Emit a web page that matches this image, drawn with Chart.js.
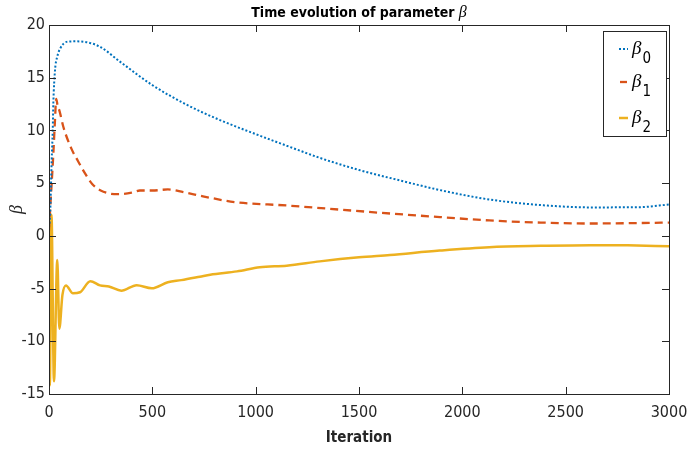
<!DOCTYPE html>
<html>
<head>
<meta charset="utf-8">
<script src="https://cdn.jsdelivr.net/npm/chart.js@4.4.0/dist/chart.umd.min.js"></script>
<style>
html,body{margin:0;padding:0;background:#fff;}
#wrap{width:689px;height:451px;position:relative;}
</style>
</head>
<body>
<div id="wrap"><canvas id="c"></canvas></div>
<script>
// ---- data ----
const chartTitle = 'Time evolution of parameter ';
const titleSymbol = 'β';
const xAxisTitle = 'Iteration';
const yAxisTitle = 'β';
const seriesLabels = ['β0', 'β1', 'β2'];
const xTicks = [0, 500, 1000, 1500, 2000, 2500, 3000];
const yTicks = [-15, -10, -5, 0, 5, 10, 15, 20];

const iterB0 = [0, 5, 13, 18, 21, 29, 40, 55, 85, 130, 198, 250, 345, 500, 670, 830, 1000, 1150, 1310, 1500, 1700, 1890, 2130, 2380, 2620, 2860, 3000];
const beta0  = [0.8, 1.8, 7.2, 10, 12.6, 15.7, 17.0, 17.8, 18.4, 18.45, 18.3, 17.9, 16.5, 14.3, 12.4, 10.96, 9.65, 8.55, 7.4, 6.25, 5.25, 4.35, 3.45, 2.92, 2.7, 2.72, 2.98];

const iterB1 = [0, 5, 21, 29, 35, 42, 50, 70, 110, 140, 175, 210, 250, 330, 400, 440, 500, 575, 650, 745, 900, 1150, 1400, 1650, 1900, 2130, 2380, 2620, 2800, 3000];
const beta1  = [0.5, 2.3, 7.8, 11.0, 13.0, 12.3, 11.9, 10.3, 8.2, 7.1, 5.9, 4.9, 4.3, 3.95, 4.1, 4.3, 4.3, 4.4, 4.15, 3.75, 3.2, 2.88, 2.5, 2.12, 1.77, 1.46, 1.26, 1.17, 1.2, 1.26];

const iterB2 = [0, 4, 12, 24, 40, 50, 65, 82, 116, 150, 200, 247, 290, 350, 424, 497, 575, 640, 730, 780, 910, 1020, 1150, 1310, 1500, 1650, 1890, 2130, 2380, 2620, 2800, 3000];
const beta2  = [0, -14.2, 2.0, -13.8, -2.3, -8.8, -5.6, -4.7, -5.45, -5.35, -4.3, -4.7, -4.8, -5.2, -4.68, -4.97, -4.4, -4.2, -3.87, -3.68, -3.37, -2.98, -2.83, -2.42, -2.03, -1.81, -1.4, -1.08, -0.95, -0.88, -0.9, -0.99];

const seriesColors = ['#0072BD', '#D95319', '#EDB120'];
const axisColor = '#262626';
const narrow = "'Liberation Sans Narrow', 'Arial Narrow', 'DejaVu Sans Condensed', sans-serif";

function pts(xs, ys){ return xs.map((x, i) => ({x: x, y: ys[i]})); }

const datasets = [
  {label: seriesLabels[0], data: pts(iterB0, beta0), borderColor: seriesColors[0], borderWidth: 2, borderDash: [2, 2]},
  {label: seriesLabels[1], data: pts(iterB1, beta1), borderColor: seriesColors[1], borderWidth: 2.3, borderDash: [8, 5]},
  {label: seriesLabels[2], data: pts(iterB2, beta2), borderColor: seriesColors[2], borderWidth: 2.5, borderDash: []}
].map(d => Object.assign(d, {pointRadius: 0, fill: false, cubicInterpolationMode: 'monotone', backgroundColor: d.borderColor}));

const decorPlugin = {
  id: 'decor',
  afterDatasetsDraw(chart){
    const ctx = chart.ctx;
    const a = chart.chartArea;
    const xs = chart.scales.x, ys = chart.scales.y;
    const tl = 7;
    ctx.save();
    ctx.strokeStyle = axisColor;
    ctx.lineWidth = 1;
    ctx.strokeRect(Math.round(a.left) + 0.5, Math.round(a.top) + 0.5, Math.round(a.right - a.left), Math.round(a.bottom - a.top));
    ctx.beginPath();
    xs.ticks.forEach(t => {
      const px = Math.round(xs.getPixelForValue(t.value)) + 0.5;
      ctx.moveTo(px, a.bottom); ctx.lineTo(px, a.bottom - tl);
      ctx.moveTo(px, a.top); ctx.lineTo(px, a.top + tl);
    });
    ys.ticks.forEach(t => {
      const py = Math.round(ys.getPixelForValue(t.value)) + 0.5;
      ctx.moveTo(a.left, py); ctx.lineTo(a.left + tl, py);
      ctx.moveTo(a.right, py); ctx.lineTo(a.right - tl, py);
    });
    ctx.stroke();

    // title
    ctx.fillStyle = '#000';
    ctx.textBaseline = 'alphabetic';
    const fBold = "bold 14px " + narrow;
    const fIt = "italic 16px 'Liberation Serif', 'DejaVu Serif', serif";
    ctx.font = fBold; const w1 = ctx.measureText(chartTitle).width;
    ctx.font = fIt; const w2 = ctx.measureText(titleSymbol).width;
    const cx = (a.left + a.right) / 2;
    const x0 = cx - (w1 + w2) / 2;
    ctx.font = fBold; ctx.textAlign = 'left'; ctx.fillText(chartTitle, x0, 17);
    ctx.font = fIt; ctx.fillText(titleSymbol, x0 + w1, 17);

    // legend
    const lx = 603, ly = 31, lw = 63, lh = 105;
    ctx.fillStyle = '#fff';
    ctx.fillRect(lx, ly, lw, lh);
    ctx.strokeStyle = axisColor;
    ctx.strokeRect(lx + 0.5, ly + 0.5, lw, lh);
    const rows = [49, 82, 118];
    chart.data.datasets.forEach((d, i) => {
      const y = rows[i];
      ctx.save();
      ctx.strokeStyle = d.borderColor;
      ctx.lineWidth = d.borderWidth;
      ctx.setLineDash(i === 1 ? [7, 20] : d.borderDash);
      ctx.beginPath();
      ctx.moveTo(i === 1 ? 620 : 619, y); ctx.lineTo(628, y);
      ctx.stroke();
      ctx.restore();
      ctx.fillStyle = '#000';
      ctx.textAlign = 'left';
      ctx.font = "italic 19px 'Liberation Serif', 'DejaVu Serif', serif";
      const sym = d.label.charAt(0), sub = d.label.slice(1);
      ctx.fillText(sym, 632, y + 5);
      const ws = ctx.measureText(sym).width;
      ctx.font = "15px " + narrow;
      ctx.fillText(sub, 632 + ws + 1, y + 14);
    });
    ctx.restore();
  }
};

new Chart(document.getElementById('c'), {
  type: 'line',
  data: {datasets: datasets},
  options: {
    responsive: true,
    maintainAspectRatio: false,
    animation: false,
    devicePixelRatio: 1,
    layout: {padding: {left: 0, right: 20, top: 25, bottom: 0}},
    plugins: {legend: {display: false}, tooltip: {enabled: false}, title: {display: false}},
    elements: {line: {tension: 0}},
    scales: {
      x: {
        type: 'linear', min: 0, max: 3000,
        afterBuildTicks(s){ s.ticks = xTicks.map(v => ({value: v})); },
        ticks: {color: axisColor, font: {family: narrow, size: 16}, padding: 9, maxRotation: 0, autoSkip: false, callback: v => String(v)},
        grid: {display: true, drawOnChartArea: false, drawTicks: false},
        border: {display: true, color: axisColor, width: 1},
        title: {display: true, text: xAxisTitle, color: axisColor, font: {family: narrow, size: 15, weight: 'bold'}, padding: {top: 0, bottom: 4}},
        afterFit(s){ s.height = 57; s.paddingLeft = 0; s.paddingRight = 0; }
      },
      y: {
        type: 'linear', min: -15, max: 20,
        afterBuildTicks(s){ s.ticks = yTicks.map(v => ({value: v})); },
        ticks: {color: axisColor, font: {family: narrow, size: 16}, padding: 4, autoSkip: false, callback: v => String(v)},
        grid: {display: true, drawOnChartArea: false, drawTicks: false},
        border: {display: true, color: axisColor, width: 1},
        title: {display: true, text: yAxisTitle, color: axisColor, font: {family: "'Liberation Serif', 'DejaVu Serif', serif", size: 18, style: 'italic'}, padding: {top: 6, bottom: 0}},
        afterFit(s){ s.width = 49; s.paddingTop = 0; s.paddingBottom = 0; }
      }
    }
  },
  plugins: [decorPlugin]
});
</script>
</body>
</html>
